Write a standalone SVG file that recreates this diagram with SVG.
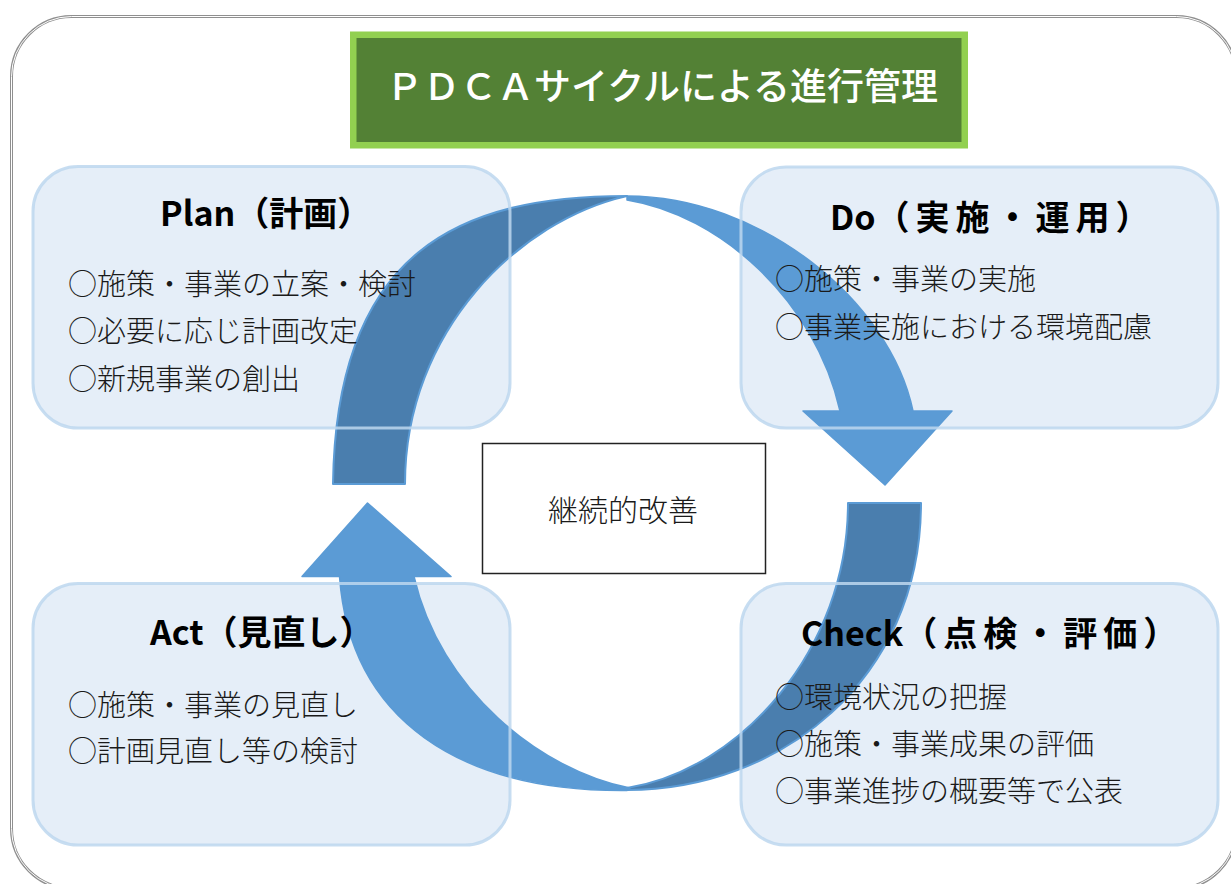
<svg xmlns="http://www.w3.org/2000/svg" width="1231" height="884" viewBox="0 0 1231 884">
<style>
.frame{fill:#ffffff;stroke:#8f8f8f;stroke-width:3}
.frame-in{fill:none;stroke:#ffffff;stroke-width:1}
.panel{fill:#E5EEF8}
.panel-edge{fill:none;stroke:#BDD7EE;stroke-width:3;stroke-opacity:0.85}
.head{font-family:"Noto Sans CJK JP",sans-serif;font-weight:bold;font-size:34px;fill:#000}
.body{font-family:"Noto Sans CJK JP",sans-serif;font-weight:300;font-size:29px;fill:#1a1a1a}
.light{fill:#5B9BD5;stroke:#5B9BD5;stroke-width:1.5;stroke-linejoin:round}
.dark{fill:#4A7EAE;stroke:#5B9BD5;stroke-width:2;stroke-linejoin:round}
</style>
<rect class="frame" x="11.5" y="16.5" width="1225" height="872" rx="60" ry="60"/>
<rect class="frame-in" x="11.5" y="16.5" width="1225" height="872" rx="60" ry="60"/>

<g id="title">
<rect x="353.25" y="34.75" width="611.5" height="110.5" fill="#538135" stroke="#92D050" stroke-width="6.5"/>
<text x="662" y="100" text-anchor="middle" font-family="'Noto Sans CJK JP',sans-serif" font-weight="500" font-size="37" fill="#ffffff">ＰＤＣＡサイクルによる進行管理</text>
</g>

<g id="plan-panel"><rect class="panel" x="33" y="166.5" width="477" height="261.5" rx="45"/></g>
<g id="do-panel"><rect class="panel" x="741" y="167" width="477" height="261" rx="45"/></g>
<g id="act-panel"><rect class="panel" x="33" y="583.5" width="477" height="261.5" rx="45"/></g>
<g id="check-panel"><rect class="panel" x="741" y="583.5" width="477" height="261.5" rx="45"/></g>

<g id="connectors">
<path class="dark" d="M333,484 C336,250 460,196 627,196 C520,220 405,330 405,484 Z"/>
<path class="light" d="M627,196 C760,196 890,300 913,411 L952,411 L885,485 L803,411 L840,411 C815,300 720,215 627,200 Z"/>
<path class="dark" d="M921,503 C921,680 780,790 627,790 L627,788 C740,770 848,650 848,503 Z"/>
<path class="light" d="M367.5,503 L451,576.5 L414,576.5 C440,690 540,770 630,788 L627,790.5 C460,792 350,720 339.5,576.5 L302,576.5 Z"/>
</g>

<g id="plan">
<rect class="panel-edge" x="33" y="166.5" width="477" height="261.5" rx="45"/>
<text class="head" x="160" y="226">Plan（計画）</text>
<text class="body" x="68" y="295">○施策・事業の立案・検討</text>
<text class="body" x="68" y="342">○必要に応じ計画改定</text>
<text class="body" x="68" y="390">○新規事業の創出</text>
</g>

<g id="do">
<rect class="panel-edge" x="741" y="167" width="477" height="261" rx="45"/>
<text class="head" x="830" y="230">Do<tspan letter-spacing="6">（実施・運用）</tspan></text>
<text class="body" x="775" y="290">○施策・事業の実施</text>
<text class="body" x="775" y="338">○事業実施における環境配慮</text>
</g>

<g id="act">
<rect class="panel-edge" x="33" y="583.5" width="477" height="261.5" rx="45"/>
<text class="head" x="150" y="645">Act（見直し）</text>
<text class="body" x="68" y="716">○施策・事業の見直し</text>
<text class="body" x="68" y="762">○計画見直し等の検討</text>
</g>

<g id="check">
<rect class="panel-edge" x="741" y="583.5" width="477" height="261.5" rx="45"/>
<text class="head" x="801" y="646">Check<tspan letter-spacing="6">（点検・評価）</tspan></text>
<text class="body" x="775" y="708">○環境状況の把握</text>
<text class="body" x="775" y="755">○施策・事業成果の評価</text>
<text class="body" x="775" y="802">○事業進捗の概要等で公表</text>
</g>

<g id="center">
<rect x="482.5" y="443.5" width="283" height="130" fill="#ffffff" stroke="#222222" stroke-width="1.5"/>
<text x="623" y="521" text-anchor="middle" font-family="'Noto Sans CJK JP',sans-serif" font-weight="300" font-size="30" fill="#1a1a1a">継続的改善</text>
</g>
</svg>
